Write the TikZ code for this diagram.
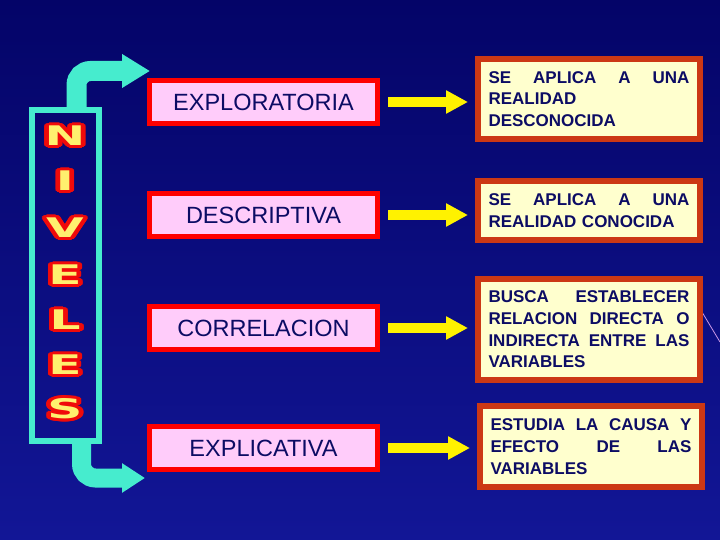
\documentclass[tikz,border=0pt]{standalone}
\usepackage{fontspec}
\setmainfont{Liberation Sans}
\newfontfamily\wordartfont{DejaVu Sans}
\usepackage{graphicx}
\usepackage[copies]{contour}
\usetikzlibrary{arrows.meta,positioning}

\definecolor{navytop}{RGB}{4,4,104}
\definecolor{navymid}{RGB}{8,8,128}
\definecolor{navybot}{RGB}{18,22,150}
\definecolor{navytext}{RGB}{12,12,100}
\definecolor{pinkfill}{RGB}{255,204,250}
\definecolor{boxred}{RGB}{255,0,0}
\definecolor{creamfill}{RGB}{255,255,206}
\definecolor{rust}{RGB}{204,56,20}
\definecolor{aqua}{RGB}{70,236,206}
\definecolor{artyellow}{RGB}{255,240,110}
\definecolor{artred}{RGB}{240,10,10}
\definecolor{streak}{RGB}{200,150,230}

\contourlength{2.6pt}
\contournumber{24}
\newcommand{\artletter}[1]{\scalebox{1.8}[1]{\contour{artred}{\textcolor{artyellow}{#1}}}}

\begin{document}
\begin{tikzpicture}[
    x=1pt, y=-1pt,
    node distance=65pt,
    level/.style={rectangle, draw=boxred, fill=pinkfill, line width=5pt, minimum width=228pt, minimum height=43pt, text=navytext, font=\fontsize{23.5}{28}\selectfont},
    info/.style={rectangle, draw=rust, fill=creamfill, line width=6pt, minimum width=222pt, text width=201pt, align=left, text=navytext, font=\bfseries\fontsize{17}{21.7}\selectfont, anchor=west},
    letter/.style={inner sep=0pt, font=\wordartfont\bfseries\fontsize{27}{27}\selectfont},
    arrow/.style={yellow, line width=10pt, -{Triangle[length=22pt,width=22pt]}, shorten <=8pt, shorten >=7pt},
    bent/.style={aqua, line width=20pt, rounded corners=14pt}
]

% Background
\useasboundingbox (0,0) rectangle (720,540);
\shade[top color=navytop, middle color=navymid, bottom color=navybot] (0,0) rectangle (720,540);
\draw[streak, line width=0.8pt] (693,297) -- (720,342);

% Niveles column
\node[rectangle, draw=aqua, line width=6pt, minimum width=67pt, minimum height=331pt] (niveles) at (65.5,275.5) {};
\node[letter] (ltrn) at (65,137) {\artletter{N}};
\node[letter] (ltri) at (65,182) {\artletter{I}};
\node[letter] (ltrv) at (65,229) {\artletter{V}};
\node[letter] (ltre) at (65,276) {\artletter{E}};
\node[letter] (ltrl) at (65,321) {\artletter{L}};
\node[letter] (ltree) at (65,366) {\artletter{E}};
\node[letter] (ltrs) at (65,410) {\artletter{S}};

% Levels
\node[level] (exploratoria) at (263.5,102) {EXPLORATORIA};
\node[level, below=of exploratoria] (descriptiva) {DESCRIPTIVA};
\node[level, below=of descriptiva] (correlacion) {CORRELACION};
\node[level, below=72pt of correlacion] (explicativa) {EXPLICATIVA};

% Descriptions
\node[info, minimum height=80pt] (aplica) at (475,99) {SE\hfill APLICA\hfill A\hfill UNA\\ REALIDAD\\ DESCONOCIDA};
\node[info, minimum height=59pt] (conocida) at (475,210.5) {SE\hfill APLICA\hfill A\hfill UNA\\ REALIDAD CONOCIDA};
\node[info, minimum height=101pt] (busca) at (475,329.5) {BUSCA\hfill ESTABLECER\\ RELACION\hfill DIRECTA\hfill O\\ INDIRECTA\hfill ENTRE\hfill LAS\\ VARIABLES};
\node[info, minimum height=81pt] (estudia) at (477,446.5) {ESTUDIA\hfill LA\hfill CAUSA\hfill Y\\ EFECTO\hfill DE\hfill LAS\\ VARIABLES};

% Yellow arrows
\draw[arrow] (exploratoria.east) -- (exploratoria.east -| aplica.west);
\draw[arrow] (descriptiva.east) -- (descriptiva.east -| conocida.west);
\draw[arrow] (correlacion.east) -- (correlacion.east -| busca.west);
\draw[arrow] (explicativa.east) -- (explicativa.east -| estudia.west);

% Bent arrows
\coordinate (uptip) at (150,71);
\coordinate (downtip) at (145,478);
\draw[bent, -{Triangle[length=28pt,width=32pt]}] ([xshift=11pt]niveles.north) |- (uptip);
\draw[bent, line width=19pt, -{Triangle[length=23pt,width=28pt]}] ([xshift=16pt]niveles.south) |- (downtip);

\end{tikzpicture}
\end{document}
